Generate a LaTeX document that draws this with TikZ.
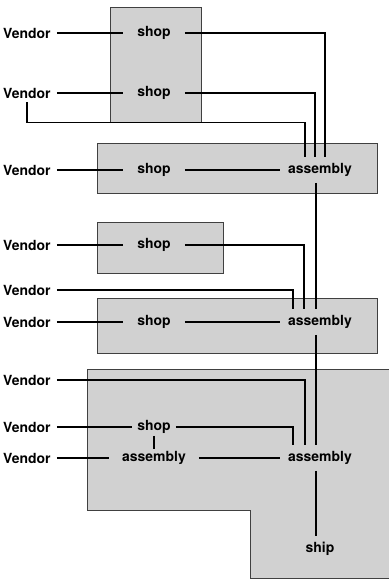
\documentclass[tikz,border=0pt]{standalone}
\usepackage{fontspec}
\setmainfont{TeX Gyre Heros}
\usepackage{tikz}
\usetikzlibrary{calc}

\tikzset{
  area/.style={fill=black!18, draw=black!75, line width=0.7bp},
  link/.style={line width=1.6bp},
  vendor/.style={anchor=west, inner xsep=6bp, inner ysep=4bp, font=\fontsize{14}{16}\selectfont\bfseries},
  work/.style={inner xsep=14bp, inner ysep=5bp, font=\fontsize{14}{16}\selectfont\bfseries},
  asm/.style={inner xsep=8bp, inner ysep=6bp, font=\fontsize{14}{16}\selectfont\bfseries}
}

\begin{document}
\begin{tikzpicture}[x=1bp, y=-1bp, line cap=butt, line join=miter]
\useasboundingbox (0,0) rectangle (388,579);

% aree grigie
\draw[area] (110,7) rectangle (201,122);
\draw[area] (97,143) rectangle (377,193);
\draw[area] (97,222) rectangle (223,273);
\draw[area] (97,298) rectangle (377,353);
\draw[area] (87,369) -- (392,369) -- (392,578) -- (250,578) -- (250,510) -- (87,510) -- cycle;

% fornitori
\node[vendor] (v1) at (-3,33)  {Vendor};
\node[vendor] (v2) at (-3,93)  {Vendor};
\node[vendor] (v3) at (-3,170) {Vendor};
\node[vendor] (v4) at (-3,245) {Vendor};
\node[vendor] (v5) at (-3,290) {Vendor};
\node[vendor] (v6) at (-3,322) {Vendor};
\node[vendor] (v7) at (-3,380) {Vendor};
\node[vendor] (v8) at (-3,427) {Vendor};
\node[vendor] (v9) at (-3,458) {Vendor};

% officine
\node[work] (s1) at (154,33)  {shop};
\node[work] (s2) at (154,93)  {shop};
\node[work] (s3) at (154,170) {shop};
\node[work] (s4) at (154,245) {shop};
\node[work] (s5) at (154,322) {shop};
\node[work, inner xsep=5bp, inner ysep=2bp] (s6) at (154,427) {shop};

% montaggi
\node[asm] (a1) at (320,170) {assembly};
\node[asm] (a2) at (320,322) {assembly};
\node[asm] (a3) at (320,458) {assembly};
\node[asm, inner xsep=13bp, inner ysep=2bp] (aL) at (154,458) {assembly};
\node[asm] (sp) at (320,549) {ship};

% primo blocco
\draw[link] (v1) -- (s1);
\draw[link] (v2) -- (s2);
\draw[link] (v3) -- (s3);
\draw[link] (s3) -- (a1);
\draw[link] (s1.east) -| ([xshift=5]a1.north);
\draw[link] (s2.east) -| ([xshift=-5]a1.north);
\draw[link] (v2.south) -- ++(0,20) -| ([xshift=-15]a1.north);

% secondo blocco
\draw[link] (v4) -- (s4);
\draw[link] (v6) -- (s5);
\draw[link] (s5) -- (a2);
\draw[link] (v5.east) -| ([xshift=-27]a2.north);
\draw[link] (s4.east) -| ([xshift=-16]a2.north);
\draw[link] ([xshift=-4]a1.south) -- ([xshift=-4]a2.north);

% terzo blocco
\draw[link] (v8) -- (s6);
\draw[link] (v9) -- (aL);
\draw[link] (s6) -- (aL);
\draw[link] (aL) -- (a3);
\draw[link] (v7.east) -| ([xshift=-15]a3.north);
\draw[link] (s6.east) -| ([xshift=-27]a3.north);
\draw[link] ([xshift=-4]a2.south) -- ([xshift=-4]a3.north);
\draw[link] ([xshift=-4]a3.south) -- ([xshift=-4]sp.north);

\end{tikzpicture}
\end{document}
